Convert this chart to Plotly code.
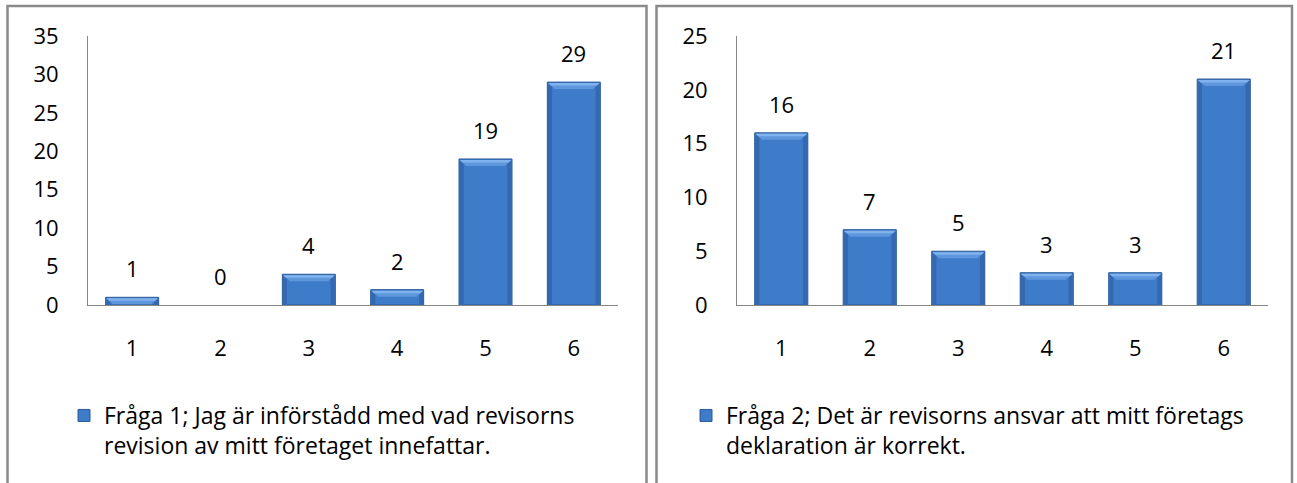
import plotly.graph_objects as go

categories = [1, 2, 3, 4, 5, 6]
q1_values = [1, 0, 4, 2, 19, 29]
q2_values = [16, 7, 5, 3, 3, 21]
q1_label = "Fråga 1; Jag är införstådd med vad revisorns<br>revision av mitt företaget innefattar."
q2_label = "Fråga 2; Det är revisorns ansvar att mitt företags<br>deklaration är korrekt."
q1_ticks = [0, 5, 10, 15, 20, 25, 30, 35]
q2_ticks = [0, 5, 10, 15, 20, 25]

W, H = 1297, 483
FONT = "Open Sans"
FS = 22
LFS = 23
BAR = "#3e7bc9"
EDGE = "#2b5a98"
SIDE = "#3468b0"
AX = "#868686"
BW = 0.6

def px(x):
    return x / W

def py(y):
    return 1 - y / H

fig = go.Figure()
for vals, lab, xa, ya, lg in ((q1_values, q1_label, "x", "y", "legend"),
                              (q2_values, q2_label, "x2", "y2", "legend2")):
    fig.add_trace(go.Bar(x=categories, y=vals, name=lab, xaxis=xa, yaxis=ya,
                         marker=dict(color=BAR, line=dict(color=EDGE, width=[1 if v > 0 else 0 for v in vals])),
                         width=BW, legend=lg, showlegend=True))

ann = []
shapes = []
for xr, yr, vals in (("x", "y", q1_values), ("x2", "y2", q2_values)):
    for c, v in zip(categories, vals):
        ann.append(dict(x=c, y=v, xref=xr, yref=yr, text=str(v), showarrow=False,
                        yanchor="middle", yshift=29, font=dict(size=FS, color="#000", family=FONT)))
        if v > 0:
            x0, x1 = c - BW / 2 + 0.008, c + BW / 2 - 0.008
            s = 0.045
            # darker side strips
            shapes.append(dict(type="rect", xref=xr, yref=yr, x0=x0, x1=x0 + s, y0=0, y1=v,
                               fillcolor=SIDE, line=dict(width=0), layer="above"))
            shapes.append(dict(type="rect", xref=xr, yref=yr, x0=x1 - s, x1=x1, y0=0, y1=v,
                               fillcolor=SIDE, line=dict(width=0), layer="above"))
            # light top bevel
            h = 7
            d = 0.075
            shapes.append(dict(type="path", xref=xr, yref=yr, ysizemode="pixel", yanchor=v,
                               path=f"M {x0},-1 L {x1},-1 L {x1 - d},-{h} L {x0 + d},-{h} Z",
                               fillcolor="#5f97dd", line=dict(width=0), layer="above"))
            shapes.append(dict(type="path", xref=xr, yref=yr, ysizemode="pixel", yanchor=v,
                               path=f"M {x0},-1 L {x1},-1 L {x1 - d*0.4},-3.5 L {x0 + d*0.4},-3.5 Z",
                               fillcolor="#80b2ee", line=dict(width=0), layer="above"))

axis_common = dict(showgrid=False, zeroline=False, showline=True, linecolor=AX, linewidth=1,
                   ticks="", tickfont=dict(size=FS, color="#000", family=FONT), fixedrange=True,
                   automargin=False)

leg_common = dict(xanchor="left", yanchor="top", valign="top",
                  font=dict(size=LFS, color="#000", family=FONT), bgcolor="rgba(0,0,0,0)",
                  itemwidth=30, tracegroupgap=0)

shapes += [
    dict(type="rect", xref="paper", yref="paper", x0=px(7.5), x1=px(646.5), y0=-0.1, y1=py(6),
         line=dict(color="#8a8a8a", width=2.5), fillcolor="rgba(0,0,0,0)", layer="below"),
    dict(type="rect", xref="paper", yref="paper", x0=px(656.5), x1=px(1292), y0=-0.1, y1=py(6),
         line=dict(color="#8a8a8a", width=2.5), fillcolor="rgba(0,0,0,0)", layer="below"),
]

fig.update_layout(
    width=W, height=H, margin=dict(l=0, r=0, t=0, b=0, autoexpand=False),
    paper_bgcolor="white", plot_bgcolor="white", showlegend=True,
    annotations=ann, shapes=shapes,
    xaxis=dict(domain=[px(88), px(618)], anchor="y", range=[0.5, 6.5], tickvals=categories,
               ticklabelstandoff=24, **axis_common),
    yaxis=dict(domain=[py(305), py(36)], anchor="x", range=[0, 35], tickvals=q1_ticks,
               ticklabelstandoff=24, **axis_common),
    xaxis2=dict(domain=[px(737), px(1268)], anchor="y2", range=[0.5, 6.5], tickvals=categories,
                ticklabelstandoff=24, **axis_common),
    yaxis2=dict(domain=[py(305), py(36)], anchor="x2", range=[0, 25], tickvals=q2_ticks,
                ticklabelstandoff=24, **axis_common),
    legend=dict(x=px(64), y=py(394), **leg_common),
    legend2=dict(x=px(686), y=py(394), **leg_common),
)

fig.write_html("out.html", config={"displayModeBar": False})
